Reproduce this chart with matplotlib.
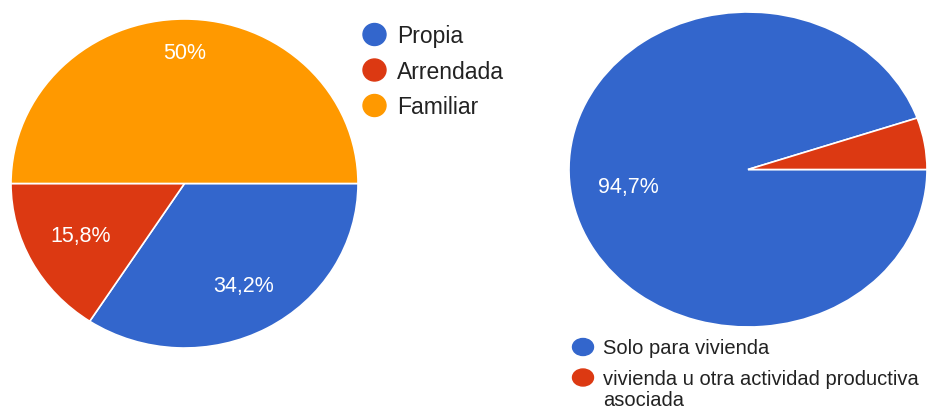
import matplotlib
matplotlib.use("Agg")
import numpy as np
import matplotlib.pyplot as plt
from matplotlib.patches import Ellipse
from matplotlib.transforms import Affine2D

plt.rcParams['font.family'] = ['Liberation Sans', 'DejaVu Sans']

# Data
tenure_labels = ['Propia', 'Arrendada', 'Familiar']
tenure_values = [34.2, 15.8, 50.0]
tenure_pct = ['34,2%', '15,8%', '50%']

use_labels = ['Solo para vivienda', 'vivienda u otra actividad productiva\nasociada']
use_values = [94.7, 5.3]
use_pct = ['94,7%', '']

colors = ['#3366CC', '#DC3912', '#FF9900']

W, H = 927, 409
fig = plt.figure(figsize=(W / 100, H / 100), dpi=100)
# pixel coordinates measured from the top-left corner
px = Affine2D().scale(1 / 100).scale(1, -1).translate(0, H / 100) + fig.dpi_scale_trans


def pie_axes(cx, cy, rx, ry):
    return fig.add_axes([(cx - rx) / W, (H - cy - ry) / H, 2 * rx / W, 2 * ry / H])


def draw_pie(ax, values, pct, cols, dists):
    ax.pie(values, colors=cols, startangle=0, counterclock=False,
           wedgeprops=dict(edgecolor='white', linewidth=1.2))
    ax.set_aspect('auto')
    ax.set_xlim(-1, 1)
    ax.set_ylim(-1, 1)
    start = 0.0
    total = sum(values)
    for v, p, d in zip(values, pct, dists):
        mid = np.deg2rad(start - 180 * v / total)
        start -= 360 * v / total
        if p:
            ax.text(d * np.cos(mid), d * np.sin(mid), p, ha='center', va='center',
                    color='white', fontsize=15.5)


ax1 = pie_axes(184.5, 183.5, 173.5, 164.5)
draw_pie(ax1, tenure_values, tenure_pct, colors, [0.71, 0.68, 0.79])

ax2 = pie_axes(748, 169.5, 179, 157.5)
draw_pie(ax2, use_values, use_pct, colors[:2], [0.68, 0.7])

# Legend for left pie
for i, (lab, col) in enumerate(zip(tenure_labels, colors)):
    y = 34.5 + 35.5 * i
    fig.add_artist(Ellipse((374.5, y), 23, 22, color=col, transform=px))
    fig.text(397, y, lab, transform=px, fontsize=16.5, color='#222222', va='center_baseline')

# Legend for right pie
for i, (lab, col) in enumerate(zip(use_labels, colors[:2])):
    y = 347 + 30.5 * i
    fig.add_artist(Ellipse((583, y), 21, 17, color=col, transform=px))
    fig.text(603, y - 7.5, lab, transform=px, fontsize=14.5, color='#222222', va='top',
             linespacing=1.15)

fig.savefig('out.png', dpi=100)
